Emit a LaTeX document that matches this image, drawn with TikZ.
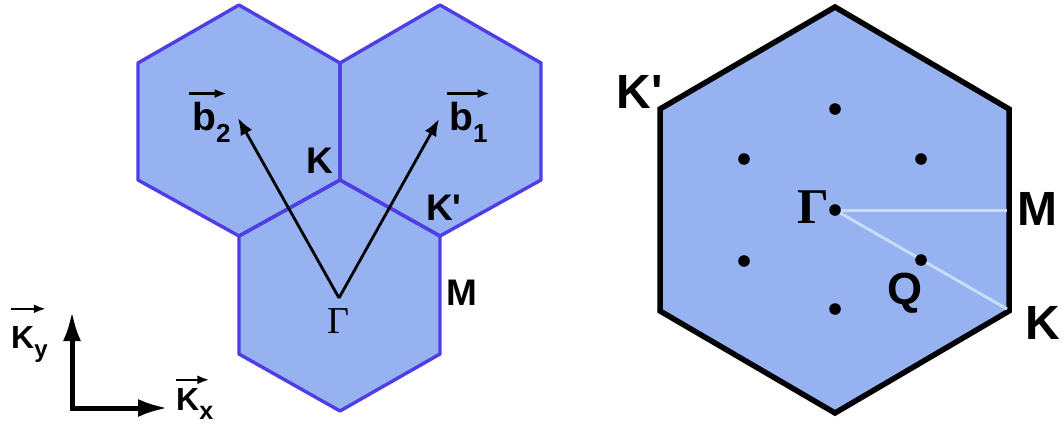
\documentclass[tikz,border=0pt]{standalone}
\usepackage{fontspec}
\setmainfont{Liberation Sans}
\newfontfamily\serifG{Liberation Serif}
\usetikzlibrary{arrows.meta}
\definecolor{hexfill}{RGB}{150,178,240}
\definecolor{hexedge}{RGB}{78,62,228}
\definecolor{pathline}{RGB}{200,220,246}
\newcommand{\fsz}[1]{\fontsize{#1}{#1}\selectfont}
\begin{document}
\begin{tikzpicture}[x=1pt,y=-1pt,
  hexleft/.style={fill=hexfill},
  hexleftedge/.style={draw=hexedge,line width=3.4pt,line join=round},
  hexright/.style={fill=hexfill,draw=black,line width=5.5pt,line join=miter},
  recip/.style={-{Latex[length=17pt,width=13pt]},line width=2.8pt},
  axisarr/.style={-{Latex[length=30pt,width=18pt]},line width=5pt},
  vecarr/.style={-{Latex[length=12pt,width=9pt]},line width=2.4pt},
  lblS/.style={inner sep=0pt,font=\fsz{37}\bfseries},
  lblL/.style={inner sep=0pt,font=\fsz{48}\bfseries},
  vecl/.style={inner sep=0pt,anchor=base west,font=\bfseries},
  bz/.style={line width=3pt,draw=pathline},
  dot/.style={fill=black}]
\useasboundingbox (0,0) rectangle (1062,439);
% ---------- left panel ----------
\path[hexleft] (239,5) -- (340,63) -- (340,180) -- (239,236) -- (138,180) -- (138,63) -- cycle;
\path[hexleft] (440,5) -- (541,63) -- (541,180) -- (440,236) -- (340,180) -- (340,63) -- cycle;
\path[hexleft] (340,180) -- (440,236) -- (440,354) -- (340,411) -- (239,354) -- (239,236) -- cycle;
\draw[hexleftedge] (239,5) -- (340,63) -- (340,180) -- (239,236) -- (138,180) -- (138,63) -- cycle;
\draw[hexleftedge] (440,5) -- (541,63) -- (541,180) -- (440,236) -- (340,180) -- (340,63) -- cycle;
\draw[hexleftedge] (340,180) -- (440,236) -- (440,354) -- (340,411) -- (239,354) -- (239,236) -- cycle;
\coordinate (G1) at (339,298);
\coordinate (B2) at (238,118);
\coordinate (B1) at (439,119);
\draw[recip] (G1) -- (B2);
\draw[recip] (G1) -- (B1);
\node[inner sep=0pt,font=\fsz{38}\serifG] (gam1) at (338,321) {Γ};
\node[lblS] (kl) at (320,161) {K};
\node[lblS] (kpl) at (444,208) {K\textquotesingle};
\node[lblS] (ml) at (462,293) {M};
\node[vecl] (b2) at (192,130) {\fsz{39}b\raisebox{-0.32em}{\fsz{26}2}};
\node[vecl] (b1) at (449,130) {\fsz{39}b\raisebox{-0.32em}{\fsz{26}1}};
\draw[vecarr] ([yshift=8pt,xshift=-3pt]b2.north west) -- ([yshift=8pt,xshift=-4pt]b2.north east);
\draw[vecarr] ([yshift=8pt,xshift=-2pt]b1.north west) -- ([yshift=8pt,xshift=2pt]b1.north east);
% axes
\coordinate (O) at (72,408);
\coordinate (AY) at (72,311);
\coordinate (AX) at (168,408);
\draw[axisarr] ([yshift=2.5pt]O) -- (AY);
\draw[axisarr] ([xshift=-2.5pt]O) -- (AX);
\node[vecl] (ky) at (11,348) {\fsz{32}K\raisebox{-0.3em}{\fsz{24}y}};
\node[vecl] (kx) at (176,410) {\fsz{32}K\raisebox{-0.3em}{\fsz{25}x}};
\draw[vecarr] ([yshift=17pt]ky.north west) -- ([yshift=17pt,xshift=-2pt]ky.north east);
\draw[vecarr] ([yshift=8pt]kx.north west) -- ([yshift=8pt,xshift=-4pt]kx.north east);
% ---------- right panel ----------
\draw[hexright] (835,7) -- (1009,109) -- (1009,311) -- (835,413) -- (660,311) -- (660,109) -- cycle;
\coordinate (G2) at (835,210);
\coordinate (Mpt) at (1007,210);
\coordinate (Kpt) at (1007,309);
\draw[bz] (G2) -- (Mpt);
\draw[bz] (G2) -- (Kpt);
\fill[dot] (G2) circle (5.8);
\fill[dot] (835,109) circle (5.8);
\fill[dot] (835,309) circle (5.8);
\fill[dot] (744,159) circle (5.8);
\fill[dot] (921,159) circle (5.8);
\fill[dot] (744,261) circle (5.8);
\fill[dot] (921,260) circle (5.8);
\node[inner sep=0pt,font=\fsz{50}\serifG\bfseries] (gam2) at (813,207) {Γ};
\node[lblL] (kpr) at (640,92) {K\textquotesingle};
\node[lblL] (mr) at (1037,209) {M};
\node[lblL] (kr) at (1043,323) {K};
\node[lblL,font=\fsz{45}\bfseries] (qr) at (905,293) {Q};
\end{tikzpicture}
\end{document}
